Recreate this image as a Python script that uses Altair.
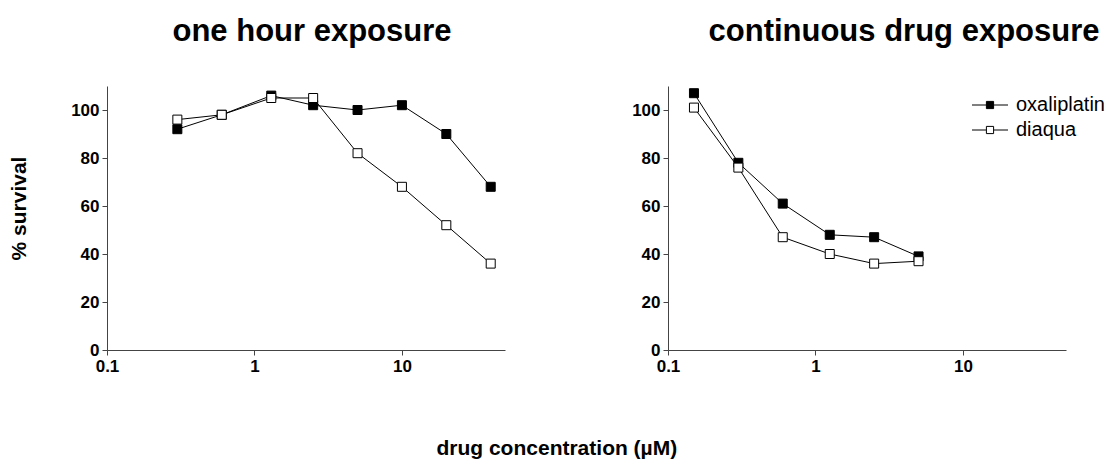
import altair as alt
import pandas as pd

series_names = ["oxaliplatin", "diaqua"]

hour_conc = [0.3, 0.6, 1.3, 2.5, 5, 10, 20, 40]
hour_oxaliplatin = [92, 98, 106, 102, 100, 102, 90, 68]
hour_diaqua = [96, 98, 105, 105, 82, 68, 52, 36]

cont_conc = [0.15, 0.3, 0.6, 1.25, 2.5, 5]
cont_oxaliplatin = [107, 78, 61, 48, 47, 39]
cont_diaqua = [101, 76, 47, 40, 36, 37]

x_ticks = [0.1, 1, 10]
y_ticks = [0, 20, 40, 60, 80, 100]

FONT = "Liberation Sans"
AXIS_COLOR = "#444444"


def make_df(conc, oxa, dia):
    rows = []
    for c, v in zip(conc, oxa):
        rows.append({"conc": c, "survival": v, "series": "oxaliplatin"})
    for c, v in zip(conc, dia):
        rows.append({"conc": c, "survival": v, "series": "diaqua"})
    return pd.DataFrame(rows)


def panel(df, title, title_dx, y_title, legend):
    x = alt.X(
        "conc:Q",
        scale=alt.Scale(type="log", domain=[0.1, 50], nice=False),
        axis=alt.Axis(values=x_ticks, format="~g", title=None, grid=False,
                      labelFont=FONT, labelFontSize=17, labelFontWeight="bold",
                      labelColor="black", domainColor=AXIS_COLOR, tickColor=AXIS_COLOR,
                      tickSize=5, labelPadding=3, labelFlush=False),
    )
    y = alt.Y(
        "survival:Q",
        scale=alt.Scale(domain=[0, 110], nice=False),
        axis=alt.Axis(values=y_ticks, title=y_title, grid=False,
                      labelFont=FONT, labelFontSize=17, labelFontWeight="bold",
                      labelColor="black", domainColor=AXIS_COLOR, tickColor=AXIS_COLOR,
                      tickSize=5, labelPadding=3,
                      titleFont=FONT, titleFontSize=21, titleFontWeight="bold",
                      titleColor="black", titlePadding=41, titleY=122),
    )
    base = alt.Chart(df).encode(x=x, y=y)
    lines = base.mark_line(color="black", strokeWidth=1).encode(
        detail="series:N", order="conc:Q")
    pts = base.mark_square(size=81, stroke="black", strokeWidth=1, opacity=1).encode(
        fill=alt.Fill("series:N",
                      scale=alt.Scale(domain=series_names, range=["black", "white"]),
                      legend=legend))
    return alt.layer(lines, pts).properties(
        width=398, height=264,
        title=alt.TitleParams(title, font=FONT, fontSize=31, fontWeight="bold",
                              color="black", anchor="middle", dx=title_dx, offset=38),
    )


legend_right = alt.Legend(
    title=None, orient="none", legendX=312, legendY=9, padding=0,
    symbolType="M-2,0H-0.4M0.4,0H2M-0.4,-0.4H0.4V0.4H-0.4Z",
    symbolSize=324, symbolStrokeColor="black", symbolStrokeWidth=1,
    labelFont=FONT, labelFontSize=20, labelColor="black", labelOffset=16,
    rowPadding=5,
)

left = panel(make_df(hour_conc, hour_oxaliplatin, hour_diaqua),
             "one hour exposure", 6, "% survival", None)
right = panel(make_df(cont_conc, cont_oxaliplatin, cont_diaqua),
              "continuous drug exposure", 37, None, legend_right)

chart = alt.hconcat(left, right, spacing=126).resolve_scale(fill="independent").properties(
    padding={"left": 8, "top": 16, "right": 0, "bottom": 0},
    background="white",
    title=alt.TitleParams("drug concentration (µM)", orient="bottom", anchor="middle",
                          font=FONT, fontSize=21, fontWeight="bold", color="black",
                          offset=64),
).configure_view(strokeWidth=0)

chart.save("out.html", embed_options={"renderer": "svg", "actions": False})
